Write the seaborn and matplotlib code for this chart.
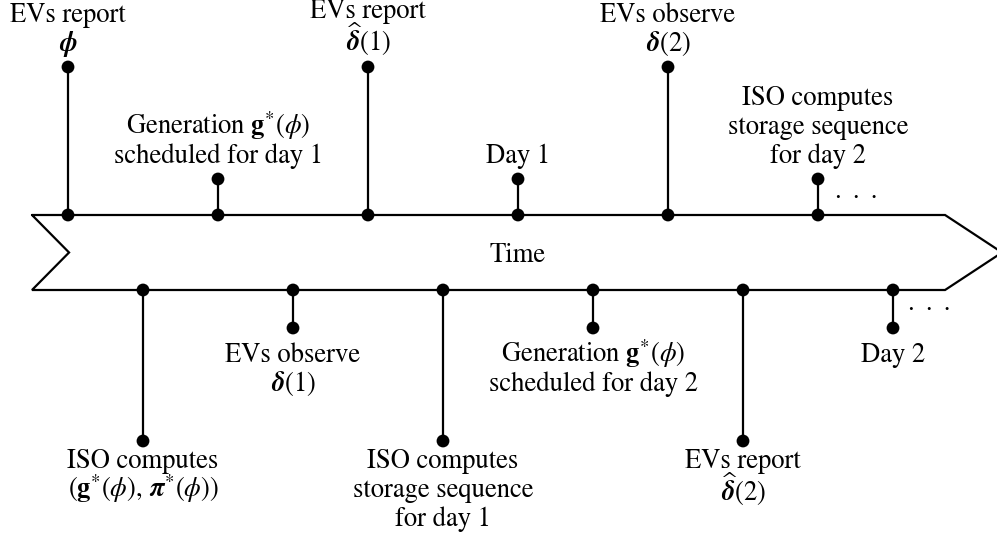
import matplotlib
matplotlib.use("Agg")
import matplotlib.pyplot as plt
import seaborn as sns
import pandas as pd

# ---- data ----
top_times = [0, 1, 2, 3, 4, 5]
top_stems = [148, 36, 148, 36, 148, 36]
top_labels = [
    ["EVs report", "$\\boldsymbol{\\phi}$"],
    ["Generation $\\mathbf{g}^{*}(\\phi)$", "scheduled for day 1"],
    ["EVs report", "$\\widehat{\\boldsymbol{\\delta}}(1)$"],
    ["Day 1"],
    ["EVs observe", "$\\boldsymbol{\\delta}(2)$"],
    ["ISO computes", "storage sequence", "for day 2"],
]
bottom_times = [0.5, 1.5, 2.5, 3.5, 4.5, 5.5]
bottom_stems = [151, 38, 151, 38, 151, 38]
bottom_labels = [
    ["ISO computes", "$(\\mathbf{g}^{*}(\\phi),\\,\\boldsymbol{\\pi}^{*}(\\phi))$"],
    ["EVs observe", "$\\boldsymbol{\\delta}(1)$"],
    ["ISO computes", "storage sequence", "for day 1"],
    ["Generation $\\mathbf{g}^{*}(\\phi)$", "scheduled for day 2"],
    ["EVs report", "$\\widehat{\\boldsymbol{\\delta}}(2)$"],
    ["Day 2"],
]
axis_label = "Time"

# ---- style ----
sns.set_theme(style="white")
plt.rcParams["font.family"] = ["STIXGeneral", "DejaVu Serif"]
plt.rcParams["mathtext.fontset"] = "stix"

PX = 150.0          # pixels per time unit
X0 = 68.0           # pixel of t=0
half = 37.5         # half band height (pixels)
W, H = 997, 540
CY = 252.5

fig = plt.figure(figsize=(W / 100, H / 100), dpi=100)
ax = fig.add_axes([0, 0, 1, 1])
ax.set_xlim(-X0 / PX, (W - X0) / PX)
ax.set_ylim(-(H - CY), CY)
ax.axis("off")

# arrow-shaped band
lw = 1.6
bx = [-0.24, 5.847, 6.227, 5.847, -0.24, 0.007, -0.24]
by = [half, half, 0, -half, -half, 0, half]
ax.plot(bx, by, color="black", lw=lw, solid_joinstyle="miter", zorder=2)

rows = []
for t, s in zip(top_times, top_stems):
    rows.append((t, half, t, half + s))
for t, s in zip(bottom_times, bottom_stems):
    rows.append((t, -half, t, -half - s))
for (x1, y1, x2, y2) in rows:
    ax.plot([x1, x2], [y1, y2], color="black", lw=lw, zorder=2)

pts = pd.DataFrame(
    [(r[0], r[1]) for r in rows] + [(r[2], r[3]) for r in rows], columns=["t", "y"]
)
sns.scatterplot(data=pts, x="t", y="y", s=85, color="black", edgecolor="none",
                linewidth=0, ax=ax, legend=False, zorder=3)

fs = 19.2


def gaps(lines):
    # spacing before each line (larger when a line carries a wide hat)
    return [33 if "widehat" in ln else 29 for ln in lines]


for t, s, lines in zip(top_times, top_stems, top_labels):
    dot = half + s
    g = gaps(lines)
    y = dot + 16
    ys = []
    for i in range(len(lines) - 1, -1, -1):
        ys.insert(0, y)
        y += g[i]
    for ln, yy in zip(lines, ys):
        ax.text(t, yy, ln, ha="center", va="baseline", fontsize=fs, color="black")

for t, s, lines in zip(bottom_times, bottom_stems, bottom_labels):
    dot = -half - s
    off = 27 if s > 100 else 34
    g = gaps(lines)
    y = dot - off
    for i, ln in enumerate(lines):
        if i > 0:
            y -= g[i]
        ax.text(t, y, ln, ha="center", va="baseline", fontsize=fs, color="black")

ax.text(3.0, -3, axis_label, ha="center", va="center", fontsize=fs, color="black")
dots = "\u00b7 \u2006\u00b7 \u2006\u00b7"
ax.text(5.253, 55, dots, ha="center", va="center", fontsize=fs, color="black")
ax.text(5.74, -57, dots, ha="center", va="center", fontsize=fs, color="black")

fig.savefig("out.png", dpi=100)
